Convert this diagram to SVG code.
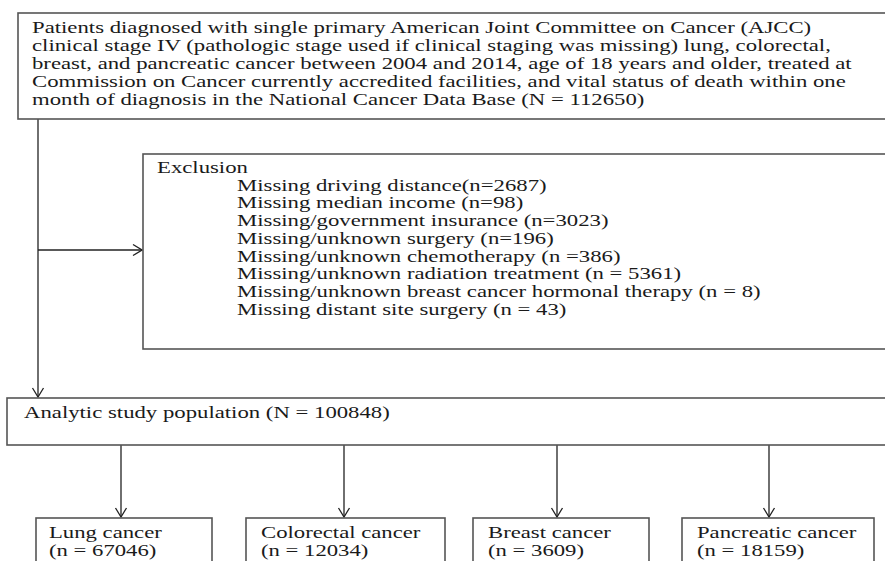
<svg xmlns="http://www.w3.org/2000/svg" width="885" height="561" viewBox="0 0 885 561">
<defs>
<style>
.box{fill:#fff;stroke:#555;stroke-width:1.6}
.t{font-family:"Liberation Serif","Times New Roman",serif;font-size:17.5px;fill:#1a1a1a}
.s{font-family:"Liberation Serif","Times New Roman",serif;font-size:16px;fill:#1a1a1a}
.c{fill:none;stroke:#222;stroke-width:1.3}
</style>
<marker id="ah" markerUnits="userSpaceOnUse" viewBox="-11 -7 12 14" refX="0" refY="0" markerWidth="12" markerHeight="14" orient="auto">
<path d="M-9,-5.5 L0,0 L-9,5.5" fill="none" stroke="#222" stroke-width="1.3"/>
</marker>
</defs>
<rect width="885" height="561" fill="#fff"/>
<g id="connectors">
<line class="c" x1="38" y1="119" x2="38" y2="397" marker-end="url(#ah)"/>
<line class="c" x1="38" y1="250" x2="142" y2="250" marker-end="url(#ah)"/>
<line class="c" x1="121" y1="445" x2="121" y2="517" marker-end="url(#ah)"/>
<line class="c" x1="344" y1="445" x2="344" y2="517" marker-end="url(#ah)"/>
<line class="c" x1="557" y1="445" x2="557" y2="517" marker-end="url(#ah)"/>
<line class="c" x1="769" y1="445" x2="769" y2="517" marker-end="url(#ah)"/>
</g>
<g id="source">
<rect class="box" x="18" y="13" width="880" height="106"/>
<text class="t" transform="translate(32,33) scale(1.3,1)">Patients diagnosed with single primary American Joint Committee on Cancer (AJCC)</text>
<text class="t" transform="translate(32,51) scale(1.3,1)">clinical stage IV (pathologic stage used if clinical staging was missing) lung, colorectal,</text>
<text class="t" transform="translate(32,69) scale(1.3,1)">breast, and pancreatic cancer between 2004 and 2014, age of 18 years and older, treated at</text>
<text class="t" transform="translate(32,87) scale(1.3,1)">Commission on Cancer currently accredited facilities, and vital status of death within one</text>
<text class="t" transform="translate(32,105) scale(1.3,1)">month of diagnosis in the National Cancer Data Base (N = 112650)</text>
</g>
<g id="exclusion">
<rect class="box" x="143" y="154" width="760" height="195"/>
<text class="t" transform="translate(157,173) scale(1.3,1)">Exclusion</text>
<text class="t" transform="translate(237,190.5) scale(1.3,1)">Missing driving distance(n=2687)</text>
<text class="t" transform="translate(237,208.3) scale(1.3,1)">Missing median income (n=98)</text>
<text class="t" transform="translate(237,226) scale(1.3,1)">Missing/government insurance (n=3023)</text>
<text class="t" transform="translate(237,243.8) scale(1.3,1)">Missing/unknown surgery (n=196)</text>
<text class="t" transform="translate(237,261.5) scale(1.3,1)">Missing/unknown chemotherapy (n =386)</text>
<text class="t" transform="translate(237,279.3) scale(1.3,1)">Missing/unknown radiation treatment (n = 5361)</text>
<text class="t" transform="translate(237,297) scale(1.3,1)">Missing/unknown breast cancer hormonal therapy (n = 8)</text>
<text class="t" transform="translate(237,314.8) scale(1.3,1)">Missing distant site surgery (n = 43)</text>
</g>
<g id="analytic">
<rect class="box" x="7" y="398" width="890" height="47"/>
<text class="t" transform="translate(24,418) scale(1.3,1)">Analytic study population (N = 100848)</text>
</g>
<g id="lung">
<rect class="box" x="36" y="518" width="176" height="60"/>
<text class="s" transform="translate(49,538) scale(1.42,1)">Lung cancer</text>
<text class="s" transform="translate(49,556) scale(1.42,1)">(n = 67046)</text>
</g>
<g id="colorectal">
<rect class="box" x="246" y="518" width="199" height="60"/>
<text class="s" transform="translate(261,538) scale(1.42,1)">Colorectal cancer</text>
<text class="s" transform="translate(261,556) scale(1.42,1)">(n = 12034)</text>
</g>
<g id="breast">
<rect class="box" x="473" y="518" width="176" height="60"/>
<text class="s" transform="translate(488,538) scale(1.42,1)">Breast cancer</text>
<text class="s" transform="translate(488,556) scale(1.42,1)">(n = 3609)</text>
</g>
<g id="pancreatic">
<rect class="box" x="682" y="518" width="192" height="60"/>
<text class="s" transform="translate(697,538) scale(1.42,1)">Pancreatic cancer</text>
<text class="s" transform="translate(697,556) scale(1.42,1)">(n = 18159)</text>
</g>
</svg>
